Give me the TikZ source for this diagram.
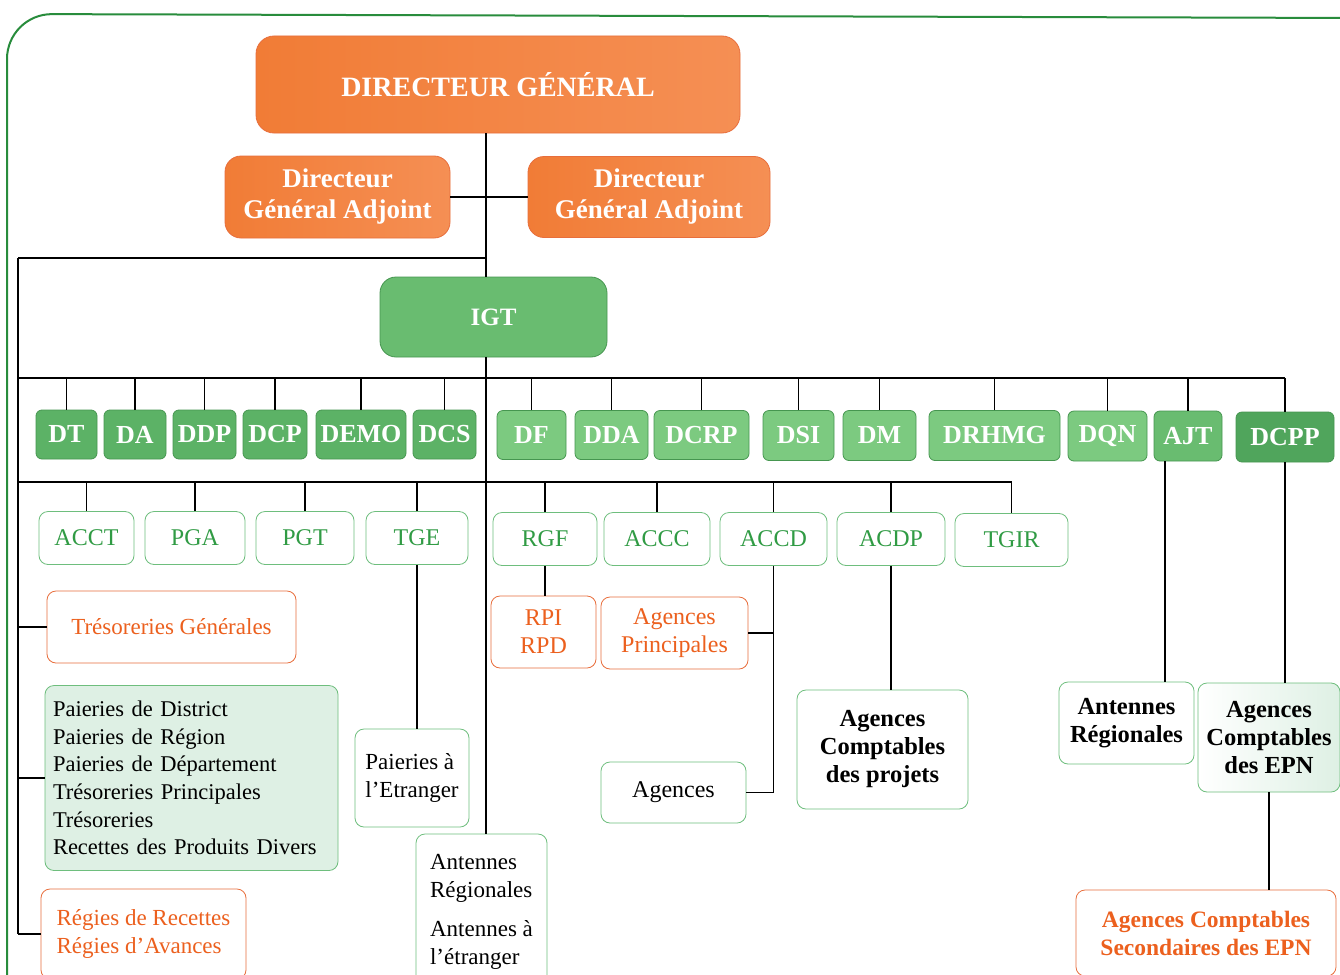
\documentclass[tikz,border=0pt]{standalone}
\usepackage{fontspec}
\setmainfont{Liberation Serif}
\definecolor{orA}{RGB}{241,124,54}
\definecolor{orB}{RGB}{245,143,84}
\definecolor{oline}{RGB}{232,110,60}
\definecolor{otxt}{RGB}{236,96,30}
\definecolor{gdark}{RGB}{92,178,102}
\definecolor{gdarker}{RGB}{80,165,92}
\definecolor{gmid}{RGB}{105,188,112}
\definecolor{glight}{RGB}{124,202,128}
\definecolor{gborder}{RGB}{70,150,80}
\definecolor{gtxt}{RGB}{48,155,68}
\definecolor{gline}{RGB}{110,190,125}
\definecolor{mint}{RGB}{222,240,228}
\definecolor{framec}{RGB}{40,140,60}
\begin{document}
\begin{tikzpicture}[x=1pt,y=-1pt,
  conn/.style={draw=black,line width=1.3pt},
  orbox/.style={shade,left color=orA,right color=orB,draw=oline,line width=0.8pt,text=white,align=center,inner sep=0pt},
  gbox/.style={draw=gborder,line width=0.8pt,fill=gdark,rounded corners=6pt,text=white,inner sep=0pt,
     font=\fontsize{26}{30}\selectfont\bfseries},
  wbox/.style={draw=gline,line width=0.8pt,fill=white,rounded corners=9pt,text=gtxt,inner sep=0pt,
     font=\fontsize{24}{28}\selectfont},
  obox/.style={draw=oline,line width=0.8pt,fill=white,rounded corners=9pt,text=otxt,inner sep=0pt,align=center},
  tbox/.style={draw=gline,line width=0.8pt,fill=white,rounded corners=9pt,text=black,inner sep=0pt},
]
\useasboundingbox (0,0) rectangle (1340,974);
\clip (0,0) rectangle (1340,974);
\fill[white] (0,0) rectangle (1340,974);
% frame
\draw[framec,line width=2pt,rounded corners=45pt] (7,990) -- (7,14) -- (1360,18);

% top
\node[orbox,rounded corners=18pt,minimum width=484,minimum height=97,font=\fontsize{28}{33}\selectfont\bfseries] (DG) at (498,84.5) {DIRECTEUR GÉNÉRAL};
\node[orbox,rounded corners=16pt,minimum width=225,minimum height=82,font=\fontsize{27}{31}\selectfont\bfseries] (DGAL) at (337.5,197) {Directeur\\Général Adjoint};
\node[orbox,rounded corners=16pt,minimum width=242,minimum height=81,font=\fontsize{27}{31}\selectfont\bfseries] (DGAR) at (649,197) {Directeur\\Général Adjoint};
\node[draw=gborder,line width=0.8pt,fill=gmid,rounded corners=16pt,text=white,inner sep=0pt,minimum width=227,minimum height=80,font=\fontsize{25}{29}\selectfont\bfseries] (IGT) at (493.5,317) {IGT};

% row of directions
\node[gbox,minimum width=61,minimum height=49] (DT) at (66.5,434.5) {DT};
\node[gbox,minimum width=62,minimum height=49] (DA) at (135,434.5) {DA};
\node[gbox,minimum width=63,minimum height=49] (DDP) at (204.5,434.5) {DDP};
\node[gbox,minimum width=64,minimum height=49] (DCP) at (275,434.5) {DCP};
\node[gbox,minimum width=90,minimum height=49] (DEMO) at (361,434.5) {DEMO};
\node[gbox,minimum width=63,minimum height=49] (DCS) at (444.5,434.5) {DCS};
\node[gbox,fill=glight,minimum width=69,minimum height=49] (DF) at (531.5,435) {DF};
\node[gbox,fill=glight,minimum width=73,minimum height=49] (DDA) at (611.5,435) {DDA};
\node[gbox,fill=glight,minimum width=95,minimum height=49] (DCRP) at (701.5,435) {DCRP};
\node[gbox,fill=glight,minimum width=71,minimum height=50] (DSI) at (798.5,435.5) {DSI};
\node[gbox,fill=glight,minimum width=73,minimum height=50] (DM) at (879.5,435.5) {DM};
\node[gbox,fill=glight,minimum width=131,minimum height=50] (DRHMG) at (994.5,435.5) {DRHMG};
\node[gbox,fill=glight,minimum width=79,minimum height=50] (DQN) at (1107.5,436) {DQN};
\node[gbox,fill=gmid,minimum width=68,minimum height=50] (AJT) at (1188,436) {AJT};
\node[gbox,fill=gdarker,minimum width=98,minimum height=50] (DCPP) at (1285,437) {DCPP};

% second row
\node[wbox,minimum width=95,minimum height=53] (ACCT) at (86.5,538) {ACCT};
\node[wbox,minimum width=100,minimum height=53] (PGA) at (195,538) {PGA};
\node[wbox,minimum width=98,minimum height=53] (PGT) at (305,538) {PGT};
\node[wbox,minimum width=102,minimum height=53] (TGE) at (417,538) {TGE};
\node[wbox,minimum width=104,minimum height=53] (RGF) at (545,539) {RGF};
\node[wbox,minimum width=106,minimum height=53] (ACCC) at (657,539) {ACCC};
\node[wbox,minimum width=107,minimum height=53] (ACCD) at (773.5,539) {ACCD};
\node[wbox,minimum width=108,minimum height=53] (ACDP) at (891,539) {ACDP};
\node[wbox,minimum width=113,minimum height=53] (TGIR) at (1011.5,540) {TGIR};

% lower boxes
\node[obox,minimum width=249,minimum height=72,font=\fontsize{23}{28}\selectfont] (TRG) at (171.5,627) {Trésoreries Générales};
\node[tbox,fill=mint,minimum width=293,minimum height=185,text width=277,inner xsep=8pt,align=left,font=\fontsize{22.5}{27.6}\selectfont] (PAI) at (191.5,778) {Paieries de District\\Paieries de Région\\Paieries de Département\\Trésoreries Principales\\Trésoreries\\Recettes des Produits Divers};
\node[obox,minimum width=205,minimum height=90,font=\fontsize{23}{28}\selectfont,align=left] (REG) at (143.5,934) {Régies de Recettes\\Régies d’Avances};
\node[tbox,minimum width=114,minimum height=98,align=left,font=\fontsize{23}{28}\selectfont] (PET) at (412,778) {Paieries à\\l’Etranger};
\node[tbox,minimum width=131,minimum height=156,align=left,font=\fontsize{23}{27.5}\selectfont] (ANT) at (481.5,912) {Antennes\\Régionales\\[12pt]Antennes à\\l’étranger};
\node[obox,minimum width=105,minimum height=72,font=\fontsize{24}{28}\selectfont] (RPI) at (543.5,632) {RPI\\RPD};
\node[obox,minimum width=147,minimum height=72,font=\fontsize{24}{28}\selectfont] (AGP) at (674.5,633) {Agences\\Principales};
\node[tbox,minimum width=145,minimum height=61,font=\fontsize{24}{28}\selectfont] (AGE) at (673.5,792.5) {Agences};
\node[tbox,minimum width=171,minimum height=119,align=center,font=\fontsize{24.5}{28}\selectfont\bfseries] (ACP) at (882.5,749.5) {Agences\\Comptables\\des projets};
\node[tbox,minimum width=135,minimum height=82,align=center,font=\fontsize{24.5}{28}\selectfont\bfseries] (ANR) at (1126.5,723) {Antennes\\Régionales};
\node[tbox,shade,left color=white,right color=mint,minimum width=142,minimum height=109,align=center,font=\fontsize{24.5}{28}\selectfont\bfseries] (EPN) at (1269,737.5) {Agences\\Comptables\\des EPN};
\node[obox,minimum width=260,minimum height=86,font=\fontsize{23.5}{28}\selectfont\bfseries] (SEC) at (1206,933) {Agences Comptables\\Secondaires des EPN};

% coordinates
\coordinate (trunk) at (486,0);
\coordinate (ltop) at (18,258);
\coordinate (b1L) at (18,378);
\coordinate (b2L) at (18,482);
\coordinate (ajtx) at (1165,0);

% connectors
\draw[conn] (DG.south -| trunk) -- (IGT.north -| trunk);
\draw[conn] (DGAL.east) -- (DGAR.west);
\draw[conn] (ltop) -- (ltop -| trunk);
\draw[conn] (ltop) -- (ltop |- REG.west);
\draw[conn] (IGT.south -| trunk) -- (ANT.north -| trunk);
\draw[conn] (b1L) -- (b1L -| DCPP.north);
\foreach \n in {DT,DA,DDP,DCP,DEMO,DCS,DF,DDA,DCRP,DSI,DM,DRHMG,DQN,AJT,DCPP}
  \draw[conn] (\n.north) -- (\n.north |- b1L);
\draw[conn] (b2L) -- (b2L -| TGIR.north);
\foreach \n in {ACCT,PGA,PGT,TGE,RGF,ACCC,ACCD,ACDP,TGIR}
  \draw[conn] (\n.north) -- (\n.north |- b2L);
\draw[conn] (TRG.west) -- (TRG.west -| ltop);
\draw[conn] (PAI.west) -- (PAI.west -| ltop);
\draw[conn] (REG.west) -- (REG.west -| ltop);
\draw[conn] (TGE.south) -- (TGE.south |- PET.north);
\draw[conn] (RGF.south) -- (RGF.south |- RPI.north);
\draw[conn] (ACCD.south) -- (ACCD.south |- AGE.east) -- (AGE.east);
\draw[conn] (AGP.east) -- (AGP.east -| ACCD.south);
\draw[conn] (ACDP.south) -- (ACDP.south |- ACP.north);
\draw[conn] (AJT.south -| ajtx) -- (ANR.north -| ajtx);
\draw[conn] (DCPP.south) -- (DCPP.south |- EPN.north);
\draw[conn] (EPN.south) -- (EPN.south |- SEC.north);
\end{tikzpicture}
\end{document}
